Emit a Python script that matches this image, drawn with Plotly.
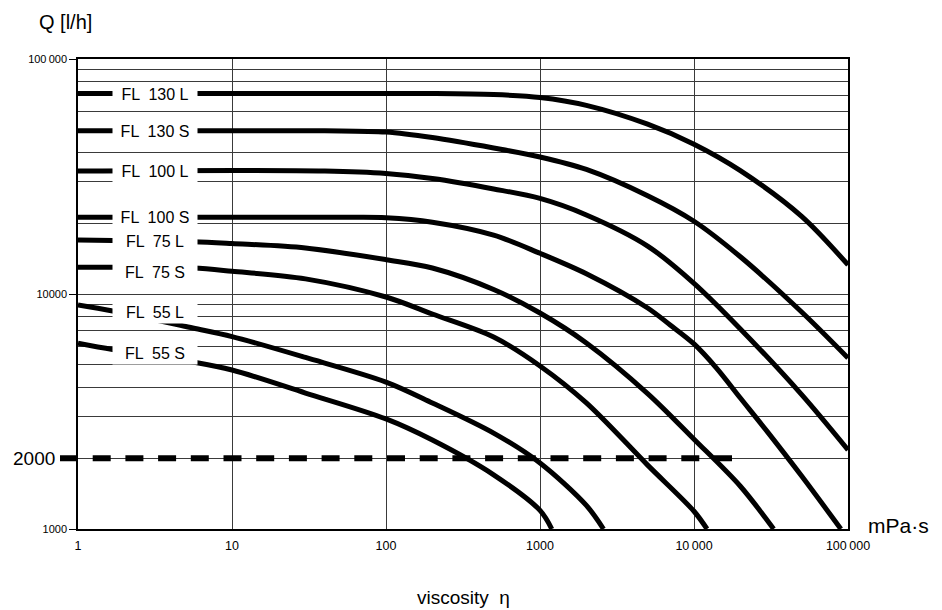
import math
import plotly.graph_objects as go

# ---------------- data ----------------
LABELS = ["FL  130 L", "FL  130 S", "FL  100 L", "FL  100 S",
          "FL  75 L", "FL  75 S", "FL  55 L", "FL  55 S"]
LABEL_Q = [71000, 49500, 33400, 21200, 16800, 12400, 8400, 5600]

FL130L_X = [1, 200, 500, 1000, 2000, 5000, 10000, 20000, 50000, 100000]
FL130L_Q = [71300, 71300, 70600, 68600, 63500, 52800, 43400, 33500, 21400, 13300]

FL130S_X = [1, 40, 100, 200, 500, 1000, 2000, 5000, 10000, 20000, 50000, 100000]
FL130S_Q = [49500, 49500, 48900, 46300, 41800, 38300, 33900, 26200, 20400, 14400, 8380, 5340]

FL100L_X = [1, 40, 100, 200, 500, 1000, 2000, 5000, 10000, 20000, 50000, 100000]
FL100L_Q = [33400, 33400, 32600, 31000, 28000, 25500, 21700, 16000, 11100, 7100, 3730, 2170]

FL100S_X = [1, 60, 100, 200, 500, 1000, 2000, 5000, 7000, 10000, 14000, 20000, 30000, 50000, 89900]
FL100S_Q = [21200, 21200, 21100, 20200, 17800, 14900, 12200, 8720, 7380, 6130, 4840, 3610, 2590, 1680, 1000]

FL75L_X = [1, 1.68, 5.6, 10, 30, 100, 200, 500, 1000, 2000, 5000, 10000, 20000, 32900]
FL75L_Q = [16970, 16900, 16700, 16400, 15700, 14000, 12900, 10450, 8300, 6190, 3770, 2410, 1520, 1000]

FL75S_X = [1, 1.68, 5.6, 10, 30, 100, 200, 500, 1000, 2000, 5000, 10000, 12150]
FL75S_Q = [13000, 13000, 12900, 12500, 11600, 9710, 8220, 6560, 4940, 3440, 1870, 1190, 1000]

FL55L_X = [1, 1.68, 5.57, 10, 30, 100, 200, 500, 1000, 2000, 2584]
FL55L_Q = [8980, 8470, 7170, 6590, 5370, 4220, 3440, 2560, 1910, 1260, 1000]

FL55S_X = [1, 1.68, 5.57, 10, 30, 100, 200, 500, 1000, 1193]
FL55S_Q = [6170, 5800, 5140, 4750, 3790, 2940, 2390, 1700, 1200, 1000]

SERIES_X = [FL130L_X, FL130S_X, FL100L_X, FL100S_X, FL75L_X, FL75S_X, FL55L_X, FL55S_X]
SERIES_Q = [FL130L_Q, FL130S_Q, FL100L_Q, FL100S_Q, FL75L_Q, FL75S_Q, FL55L_Q, FL55S_Q]

X_TICKS = [1, 10, 100, 1000, 10000, 100000]
X_TICKTEXT = ["1", "10", "100", "1000", "10\u2009000", "100\u2009000"]
Y_TICKS = [1000, 10000, 100000]
Y_TICKTEXT = ["1000", "10000", "100\u2009000"]
Y_MINOR = [2000, 3000, 4000, 5000, 6000, 7000, 8000, 9000,
           20000, 30000, 40000, 50000, 60000, 70000, 80000, 90000]

REF_Q = 2000        # dashed reference line
REF_X_END = 18000   # viscosity where the dashed line stops

X_RANGE = [0, 5]
Y_RANGE = [3, 5]

# ---------------- figure ----------------
W, H = 942, 610
ML, MR, MT, MB = 78, 94, 59, 81
PW = W - ML - MR
PH = H - MT - MB

GRID = "#3a3a3a"
LABEL_FONT = "Liberation Sans, Arial, sans-serif"
TICK_FONT = "Liberation Sans, Arial, sans-serif"

fig = go.Figure()
for name, xs, qs in zip(LABELS, SERIES_X, SERIES_Q):
    fig.add_trace(go.Scatter(
        x=xs, y=qs, mode="lines", name=name.replace("  ", " "),
        line=dict(color="black", width=5, shape="spline", smoothing=0.9),
        showlegend=False, hoverinfo="x+y+name",
    ))


def xpaper(v):
    return (math.log10(v) - X_RANGE[0]) / (X_RANGE[1] - X_RANGE[0])


# dashed reference line at 2000 l/h (starts left of the axis, like the reference)
fig.add_shape(type="line", xref="paper", yref="y",
              x0=-18 / PW, x1=xpaper(REF_X_END), y0=REF_Q, y1=REF_Q,
              line=dict(color="black", width=6, dash="18px,14.7px"))

annotations = []
for text, q in zip(LABELS, LABEL_Q):
    annotations.append(dict(
        text=text, xref="paper", yref="y", x=(155 - ML) / PW, y=math.log10(q),
        showarrow=False, xanchor="center", yanchor="middle",
        width=84, height=22, bgcolor="white", borderpad=0,
        font=dict(family=LABEL_FONT, size=16, color="black"),
    ))

annotations.append(dict(text="2000", xref="paper", yref="y", x=(34 - ML) / PW,
                        y=math.log10(REF_Q), showarrow=False, xanchor="center",
                        yanchor="middle",
                        font=dict(family=TICK_FONT, size=19, color="black")))
annotations.append(dict(text="Q [l/h]", xref="paper", yref="paper",
                        x=(37 - ML) / PW, y=1 + (MT - 22) / PH, showarrow=False,
                        xanchor="left", yanchor="middle",
                        font=dict(family=TICK_FONT, size=20, color="black")))
annotations.append(dict(text="mPa·s", xref="paper", yref="paper",
                        x=(866 - ML) / PW, y=(529 - 525) / PH, showarrow=False,
                        xanchor="left", yanchor="middle",
                        font=dict(family=TICK_FONT, size=21, color="black")))
annotations.append(dict(text="viscosity  η", xref="paper", yref="paper",
                        x=(463 - ML) / PW, y=-(597 - 529) / PH, showarrow=False,
                        xanchor="center", yanchor="middle",
                        font=dict(family=TICK_FONT, size=19, color="black")))

fig.update_layout(
    width=W, height=H,
    margin=dict(l=ML, r=MR, t=MT, b=MB, pad=0),
    paper_bgcolor="white", plot_bgcolor="white",
    annotations=annotations,
    showlegend=False,
    xaxis=dict(
        type="log", range=X_RANGE, tickmode="array", tickvals=X_TICKS,
        ticktext=X_TICKTEXT, ticks="", showgrid=True, gridcolor=GRID,
        gridwidth=1.3, showline=True, linecolor="black", linewidth=1.5,
        mirror=True, tickfont=dict(family=TICK_FONT, size=12.5, color="black"),
        ticklabelstandoff=4, zeroline=False,
    ),
    yaxis=dict(
        type="log", range=Y_RANGE, tickmode="array", tickvals=Y_TICKS,
        ticktext=Y_TICKTEXT, ticks="outside", ticklen=7, tickcolor="black",
        tickwidth=1.2, showgrid=True, gridcolor=GRID, gridwidth=1.3,
        showline=True, linecolor="black", linewidth=1.5, mirror=True,
        tickfont=dict(family=TICK_FONT, size=11, color="black"),
        minor=dict(tickmode="array", tickvals=Y_MINOR, showgrid=True,
                   gridcolor=GRID, gridwidth=1.3, ticks=""),
        zeroline=False,
    ),
)

fig.write_html("out.html")
